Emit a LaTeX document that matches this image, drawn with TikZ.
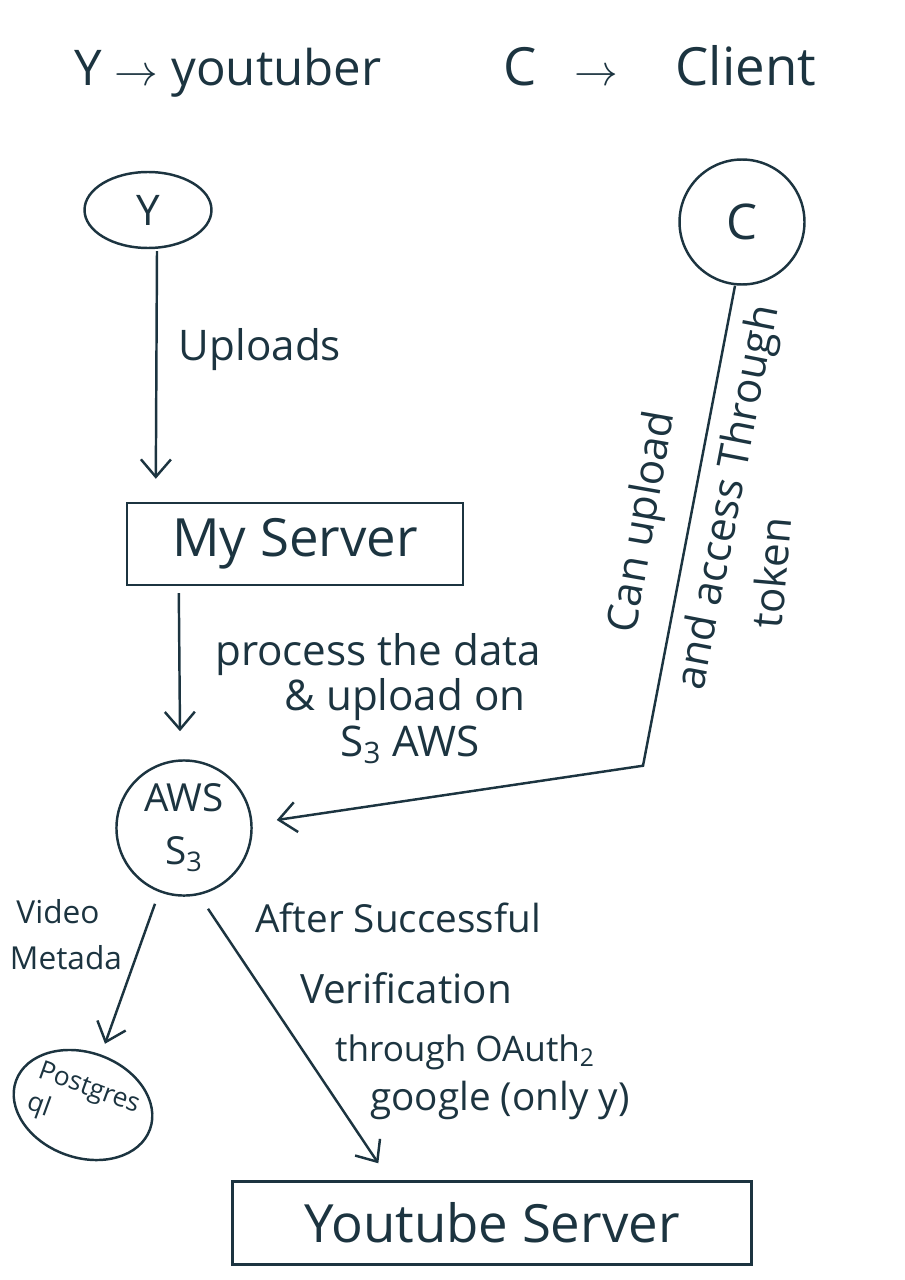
\documentclass[tikz,border=0pt]{standalone}
\usepackage{fontspec}
\setmainfont{Open Sans}
\usetikzlibrary{arrows.meta}
\usetikzlibrary{calc}
\usetikzlibrary{shapes.geometric}
\usetikzlibrary{positioning}
\definecolor{ink}{RGB}{28,52,64}

\begin{document}
\begin{tikzpicture}[x=0.02cm, y=-0.02cm,
    every node/.style={text=ink},
    line/.style={draw=ink, line width=1.4pt},
    flow/.style={line, -{Straight Barb[length=3.5mm, width=6mm]}},
    hand/.style={font=\fontsize{#1}{#1}\selectfont},
    hand/.default=24]
  \useasboundingbox (0,0) rectangle (905,1280);

  % legend
  \node[hand=28, anchor=base] (keyY) at (228,86) {Y $\to$ youtuber};
  \node[hand=30, anchor=base] (keyC) at (660,86) {C\hspace{0.7em}$\to$\hspace{1.1em}Client};

  % actors and stores
  \node[line, ellipse, minimum width=2.54cm, minimum height=1.52cm, hand] (Y) at (148,210) {Y};
  \node[line, circle, minimum size=2.5cm, hand=28] (C) at (742,222) {C};
  \node[line, minimum width=6.72cm, minimum height=1.64cm, hand=30] (server) at (295,544) {My Server};
  \node[line, circle, minimum size=2.56cm, align=center, font=\fontsize{22}{30}\selectfont] (aws) at (184,828) {AWS\\S\textsubscript{3}};
  \node[line, ellipse, minimum width=2.85cm, minimum height=2.1cm, rotate=-20] (pg) at (83,1105) {};
  \node[rotate=-20, align=left, inner sep=0pt, font=\fontsize{15}{19}\selectfont] (pgText) at (pg.center) {Postgres\\ql};
  \node[line, minimum width=10.38cm, minimum height=1.66cm, hand=30] (yt) at (492,1223) {Youtube Server};

  % connectors
  \draw[flow] ($(Y.south)+(9,2)$) -- ($(server.north west)+(30,-23)$);
  \draw[flow] ($(server.south west)+(53,7)$) -- ($(aws.north)+(-4,-28)$);
  \coordinate (cBend) at ($(C.south)+(-99,480)$);
  \draw[flow] ($(C.south)+(-7,0)$) -- (cBend) -- ($(aws.east)+(24,-8)$);
  \draw[flow] ($(aws.south)+(-29,7)$) -- ($(aws.south)+(-79,147)$);
  \draw[flow] ($(aws.south)+(24,12)$) -- ($(yt.north west)+(147,-17)$);

  % labels
  \node[hand] (lblUp) at (260,350) {Uploads};
  \node[hand] (lblProc1) at (378,655) {process the data};
  \node[hand] (lblProc2) at (405,700) {\& upload on};
  \node[hand] (lblProc3) at (410,745) {S\textsubscript{3} AWS};
  \node[hand, rotate=80] (lblCan) at (644,522) {Can upload};
  \node[hand, rotate=79] (lblAcc) at (730,498) {and access Through};
  \node[hand, rotate=85] (lblTok) at (771,573) {token};
  \node[hand=18] (lblVid1) at (58,912) {Video};
  \node[hand=18] (lblVid2) at (66,958) {Metada};
  \node[hand=22] (lblOk1) at (398,918) {After Successful};
  \node[hand=23] (lblOk2) at (406,988) {Verification};
  \node[hand=20] (lblOk3) at (465,1052) {through OAuth\textsubscript{2}};
  \node[hand=22] (lblOk4) at (500,1100) {google (only y)};
\end{tikzpicture}
\end{document}
